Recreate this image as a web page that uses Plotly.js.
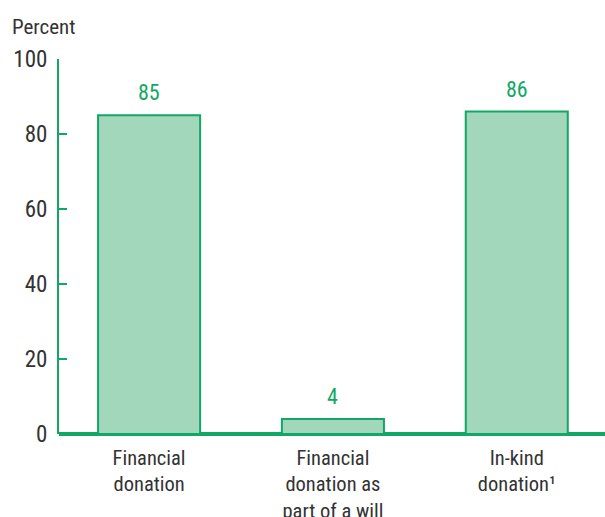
<!DOCTYPE html>
<html><head><meta charset="utf-8">
<script src="https://cdn.plot.ly/plotly-3.0.1.min.js"></script>
<style>html,body{margin:0;padding:0;background:#fff}#chart{width:605px;height:517px}</style>
</head><body><div id="chart"></div>
<script>
const categories = ["Financial<br>donation", "Financial<br>donation as<br>part of a will", "In-kind<br>donation¹"];
const values = [85, 4, 86];
const yTicks = [0, 20, 40, 60, 80, 100];

const green = "#10a864";
const fill = "#a3d7bb";
const font = "'Liberation Sans Narrow', 'Roboto Condensed', 'Arial Narrow', Roboto, sans-serif";
const xs = categories.map((c, i) => i);

const trace = {
  type: "bar", x: xs, y: values, width: 0.555,
  marker: {color: fill, line: {color: green, width: 2}},
  hoverinfo: "none"
};

const annotations = values.map((v, i) => ({
  x: i, y: v, xref: "x", yref: "y", text: String(v), showarrow: false,
  yanchor: "bottom", yshift: 8, font: {family: font, size: 22, color: green}
}));
annotations.push({
  xref: "paper", yref: "paper", x: -0.09, y: 1.0, yshift: 18, xanchor: "left", yanchor: "bottom",
  text: "Percent", showarrow: false, font: {family: font, size: 21, color: "#333"}
});

const layout = {
  width: 605, height: 517,
  margin: {l: 59, r: 0, t: 59, b: 83},
  paper_bgcolor: "#fff", plot_bgcolor: "#fff",
  showlegend: false,
  font: {family: font, size: 20, color: "#333"},
  xaxis: {
    range: [-0.49, 2.48], tickvals: xs, ticktext: categories,
    showline: false, showgrid: false, zeroline: false, ticks: "",
    tickfont: {family: font, size: 20.5, color: "#333"}, ticklabelstandoff: 9,
    fixedrange: true
  },
  yaxis: {
    range: [0, 100], tickvals: yTicks, showgrid: false, zeroline: true,
    zerolinecolor: green, zerolinewidth: 3.5,
    showline: true, linecolor: green, linewidth: 2,
    ticks: "inside", ticklen: 8, tickcolor: green, tickwidth: 2,
    tickfont: {family: font, size: 23, color: "#333"}, ticklabelstandoff: 5,
    fixedrange: true
  },
  annotations: annotations
};

Plotly.newPlot("chart", [trace], layout, {displayModeBar: false, staticPlot: true});
</script></body></html>
